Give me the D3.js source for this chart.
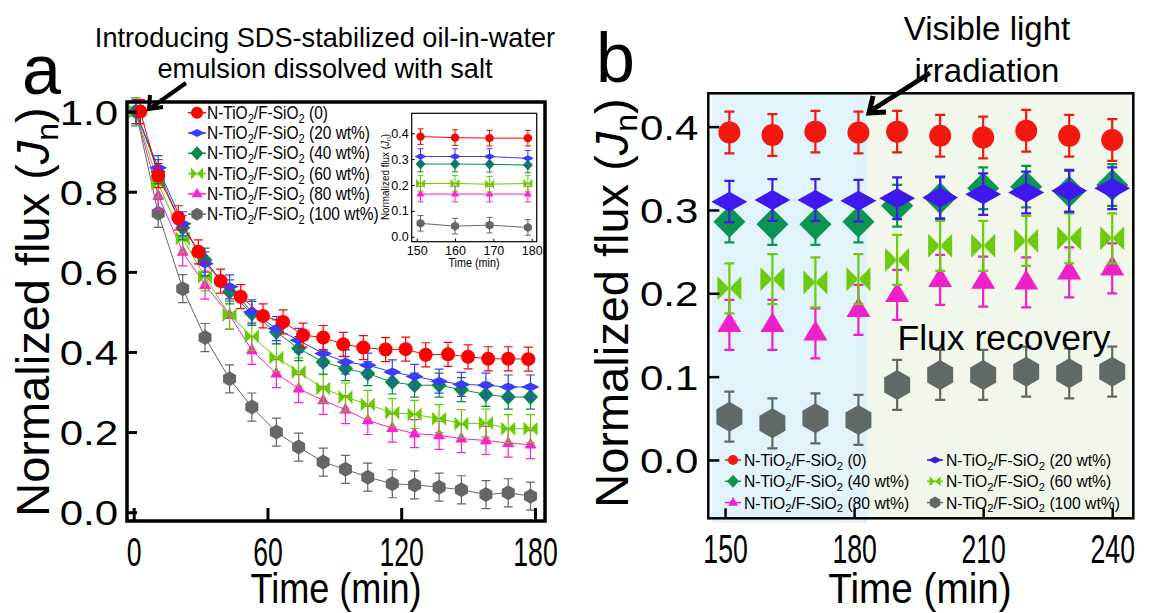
<!DOCTYPE html>
<html><head><meta charset="utf-8">
<script src="https://cdn.jsdelivr.net/npm/d3@7"></script>
<style>
body{margin:0;background:#fff}
svg{display:block}
text{font-family:"Liberation Sans",Arial,Helvetica,sans-serif;fill:#000}
</style>
</head><body>
<svg id="chart" width="1151" height="613"></svg>
<script>
// ---------------- data ----------------
const seriesSuffix = ["(0)", "(20 wt%)", "(40 wt%)", "(60 wt%)", "(80 wt%)", "(100 wt%)"];
const markerTypes = ["circle", "flatDiamond", "diamond", "bowtie", "triangle", "hexagon"];
const colorsA = ["#ff0000", "#3b3bff", "#078a48", "#66cc00", "#ff1ed2", "#666666"];
const colorsB = ["#f2170f", "#3f18f0", "#0b9452", "#6ccb0c", "#ef1fc9", "#5f6a66"];

// panel a: flux decline during emulsion filtration (min)
const timeA0 = [3, 11, 20, 29, 39, 48, 58, 67, 76, 85, 94, 103, 113, 122, 131, 141, 150, 159, 168, 177];
const timeA = [1, 11, 22, 32, 43, 53, 64, 74, 85, 95, 105, 116, 126, 137, 147, 158, 168, 178];
const fluxA0 = [1.0, 0.84, 0.735, 0.65, 0.577, 0.538, 0.49, 0.475, 0.442, 0.436, 0.419, 0.411, 0.406, 0.407, 0.393, 0.394, 0.388, 0.383, 0.383, 0.382];
const fluxA20 = [1.0, 0.86, 0.72, 0.62, 0.5625, 0.5, 0.4585, 0.429, 0.396, 0.375, 0.367, 0.35, 0.339, 0.327, 0.319, 0.317, 0.3125, 0.3125];
const fluxA40 = [1.0, 0.85, 0.71, 0.629, 0.55, 0.496, 0.45, 0.4085, 0.375, 0.3585, 0.346, 0.325, 0.317, 0.317, 0.306, 0.294, 0.2875, 0.2875];
const fluxA60 = [1.0, 0.82, 0.683, 0.5875, 0.492, 0.439, 0.386, 0.35, 0.3085, 0.2875, 0.269, 0.2485, 0.244, 0.2335, 0.221, 0.2225, 0.2085, 0.2085];
const fluxA80 = [1.0, 0.79, 0.65, 0.567, 0.492, 0.404, 0.346, 0.3085, 0.279, 0.256, 0.229, 0.21, 0.196, 0.192, 0.1835, 0.179, 0.1725, 0.1685];
const fluxA100 = [1.0, 0.746, 0.558, 0.436, 0.333, 0.2625, 0.2, 0.1625, 0.125, 0.107, 0.0875, 0.071, 0.068, 0.0625, 0.056, 0.044, 0.0485, 0.04];
const errA = [0.03, 0.03, 0.03, 0.035, 0.035, 0.035];

// inset of panel a: last 30 min
const timeI = [151, 160, 169, 179];
const fluxI0 = [0.387, 0.383, 0.381, 0.381];
const fluxI20 = [0.31, 0.31, 0.31, 0.303];
const fluxI40 = [0.281, 0.281, 0.28, 0.277];
const fluxI60 = [0.206, 0.206, 0.203, 0.206];
const fluxI80 = [0.165, 0.165, 0.165, 0.165];
const fluxI100 = [0.052, 0.041, 0.045, 0.036];
const errI = [0.03, 0.03, 0.03, 0.03, 0.03, 0.03];

// panel b: flux recovery under visible light
const timeB = [151, 161, 171, 181, 190, 200, 210, 220, 230, 240];
const fluxB0 = [0.393, 0.39, 0.394, 0.393, 0.394, 0.389, 0.387, 0.395, 0.389, 0.384];
const fluxB20 = [0.31, 0.312, 0.312, 0.311, 0.314, 0.315, 0.319, 0.321, 0.323, 0.326];
const fluxB40 = [0.286, 0.283, 0.283, 0.286, 0.305, 0.314, 0.326, 0.328, 0.322, 0.33];
const fluxB60 = [0.206, 0.217, 0.213, 0.217, 0.24, 0.257, 0.257, 0.263, 0.266, 0.266];
const fluxB80 = [0.162, 0.162, 0.152, 0.18, 0.198, 0.216, 0.214, 0.213, 0.225, 0.23];
const fluxB100 = [0.052, 0.044, 0.05, 0.048, 0.09, 0.102, 0.102, 0.106, 0.104, 0.106];
const errB = [0.025, 0.025, 0.025, 0.03, 0.03, 0.03];
const lightOnTime = 183;

const ticksAx = [0, 60, 120, 180];
const ticksAy = [0.0, 0.2, 0.4, 0.6, 0.8, 1.0];
const ticksIx = [150, 160, 170, 180];
const ticksIy = [0.0, 0.1, 0.2, 0.3, 0.4];
const ticksBx = [150, 180, 210, 240];
const ticksBy = [0.0, 0.1, 0.2, 0.3, 0.4];

// ---------------- helpers ----------------
const svg = d3.select("#chart");

function markerPath(type, s) {
  const p = d3.path();
  if (type === "circle") {
    p.arc(0, 0, s.r, 0, 2 * Math.PI);
  } else if (type === "flatDiamond" || type === "diamond") {
    p.moveTo(-s.w, 0); p.lineTo(0, -s.h); p.lineTo(s.w, 0); p.lineTo(0, s.h); p.closePath();
  } else if (type === "bowtie") {
    p.moveTo(-s.w, -s.h); p.lineTo(-s.w * 0.12, -s.h * 0.12); p.lineTo(-s.w * 0.12, s.h * 0.12); p.lineTo(-s.w, s.h); p.closePath();
    p.moveTo(s.w, -s.h); p.lineTo(s.w * 0.12, -s.h * 0.12); p.lineTo(s.w * 0.12, s.h * 0.12); p.lineTo(s.w, s.h); p.closePath();
  } else if (type === "triangle") {
    p.moveTo(0, -s.h); p.lineTo(s.w, s.h * 0.55); p.lineTo(-s.w, s.h * 0.55); p.closePath();
  } else if (type === "hexagon") {
    const c = Math.cos(Math.PI / 6) * s.r;
    p.moveTo(0, -s.r); p.lineTo(c, -s.r / 2); p.lineTo(c, s.r / 2);
    p.lineTo(0, s.r); p.lineTo(-c, s.r / 2); p.lineTo(-c, -s.r / 2); p.closePath();
  }
  return p.toString();
}

// per-series marker geometry (half sizes) for each plot
const sizesA = [{r: 7}, {w: 9, h: 4.5}, {w: 7.5, h: 8}, {w: 7, h: 7}, {w: 6, h: 7}, {r: 7.5}];
const sizesI = [{r: 4.2}, {w: 6, h: 3.2}, {w: 5, h: 5.5}, {w: 4.5, h: 4.5}, {w: 4, h: 4.5}, {r: 4.6}];
const sizesB = [{r: 11}, {w: 18, h: 10}, {w: 16, h: 16}, {w: 12, h: 12}, {w: 12, h: 13}, {r: 15}];
const sizesLegA = [{r: 6}, {w: 8, h: 4}, {w: 6.5, h: 7}, {w: 6, h: 6}, {w: 5.5, h: 6}, {r: 6.5}];
const sizesLegB = [{r: 5}, {w: 7, h: 3.5}, {w: 6, h: 6.5}, {w: 5.5, h: 5}, {w: 5, h: 5.5}, {r: 6}];

function formulaText(g, x, y, suffix, size, sx) {
  const t = g.append("text")
    .attr("transform", `translate(${x},${y}) scale(${sx},1)`)
    .attr("font-size", size);
  t.append("tspan").text("N-TiO");
  t.append("tspan").attr("font-size", size * 0.72).attr("dy", size * 0.22).text("2");
  t.append("tspan").attr("dy", -size * 0.22).text("/F-SiO");
  t.append("tspan").attr("font-size", size * 0.72).attr("dy", size * 0.22).text("2");
  t.append("tspan").attr("dy", -size * 0.22).text(" " + suffix);
  return t;
}

function fluxLabel(g, x, y, size, sx) {
  const t = g.append("text")
    .attr("transform", `translate(${x},${y}) rotate(-90) scale(${sx},1)`)
    .attr("text-anchor", "middle")
    .attr("font-size", size);
  t.append("tspan").text("Normalized flux (");
  t.append("tspan").attr("font-style", "italic").text("J");
  t.append("tspan").attr("font-size", size * 0.68).attr("dy", size * 0.2).text("n");
  t.append("tspan").attr("dy", -size * 0.2).text(")");
  return t;
}

function plainText(g, x, y, str, size, anchor, sx) {
  return g.append("text")
    .attr("transform", `translate(${x},${y}) scale(${sx || 1},1)`)
    .attr("text-anchor", anchor || "start")
    .attr("font-size", size)
    .text(str);
}

function drawSeries(g, x, y, times, values, err, color, type, size, opts) {
  const cap = opts.cap;
  if (opts.line) {
    g.append("path")
      .attr("d", d3.line().x(d => x(d[0])).y(d => y(d[1]))(times.map((t, i) => [t, values[i]])))
      .attr("fill", "none").attr("stroke", color).attr("stroke-width", opts.lineWidth);
  }
  const pts = g.selectAll(null).data(times.map((t, i) => ({t, v: values[i]}))).enter().append("g")
    .attr("transform", d => `translate(${x(d.t)},${y(d.v)})`);
  pts.each(function (d) {
    const p = d3.select(this);
    const top = y(d.v + err) - y(d.v), bot = y(d.v - err) - y(d.v);
    p.append("path")
      .attr("d", `M0,${top}V${bot}M${-cap},${top}H${cap}M${-cap},${bot}H${cap}`)
      .attr("stroke", color).attr("stroke-width", opts.errWidth).attr("fill", "none");
  });
  pts.append("path").attr("d", markerPath(type, size)).attr("fill", color);
}

function styleAxis(a, width) {
  a.select(".domain").remove();
  a.selectAll(".tick line").attr("stroke", "#000").attr("stroke-width", width);
  a.selectAll(".tick text").attr("font-family", null).attr("fill", "#000");
}

// ---------------- panel a ----------------
const gA = svg.append("g");
const xA = d3.scaleLinear().domain([-3, 184.5]).range([127, 545]);
const yA = d3.scaleLinear().domain([-0.022, 1.024]).range([521, 102]);

const seriesA = [fluxA0, fluxA20, fluxA40, fluxA60, fluxA80, fluxA100];
for (let i = 5; i >= 0; i--) {
  drawSeries(gA, xA, yA, i === 0 ? timeA0 : timeA, seriesA[i], errA[i], colorsA[i], markerTypes[i], sizesA[i],
    {line: true, lineWidth: 1, errWidth: 1.2, cap: 4.5});
}

// axes of panel a (inward ticks, boxed frame)
const axAleft = d3.axisLeft(yA).tickValues(ticksAy).tickSize(-10).tickFormat(d3.format(".1f")).tickPadding(0);
const axAbottom = d3.axisBottom(xA).tickValues(ticksAx).tickSize(-13).tickFormat(d3.format("d")).tickPadding(16);
const gAy = gA.append("g").attr("transform", `translate(${xA.range()[0]},0)`).call(axAleft);
const gAx = gA.append("g").attr("transform", `translate(0,${yA.range()[0]})`).call(axAbottom);
styleAxis(gAy, 3); styleAxis(gAx, 3);
gAy.selectAll(".tick text").attr("font-size", 35).attr("x", null).attr("dy", "0.36em")
  .attr("transform", "translate(-9,0) scale(1.2,1)");
gAx.selectAll(".tick text").attr("font-size", 41).attr("transform", "scale(0.65,1)");
gA.append("rect")
  .attr("x", xA.range()[0]).attr("y", yA.range()[1])
  .attr("width", xA.range()[1] - xA.range()[0]).attr("height", yA.range()[0] - yA.range()[1])
  .attr("fill", "none").attr("stroke", "#000").attr("stroke-width", 3.5);

fluxLabel(gA, 49, 312, 47, 1);
plainText(gA, 336, 603, "Time (min)", 43, "middle", 0.84);
plainText(gA, 22, 94, "a", 70, "start", 1);

// annotation of the feed change
plainText(gA, 325, 47, "Introducing SDS-stabilized oil-in-water", 28, "middle", 0.97);
plainText(gA, 325, 78, "emulsion dissolved with salt", 28, "middle", 0.97);
gA.append("path").attr("d", "M186,83 L152,107").attr("stroke", "#000").attr("stroke-width", 4).attr("fill", "none");
gA.append("path").attr("d", "M150,95 L149,109 L163,107").attr("stroke", "#000").attr("stroke-width", 4)
  .attr("fill", "none").attr("stroke-linejoin", "miter");

// legend of panel a
const legA = gA.append("g");
seriesSuffix.forEach((s, i) => {
  const yy = 112.7 + i * 20.3;
  legA.append("line").attr("x1", 188).attr("x2", 206).attr("y1", yy).attr("y2", yy)
    .attr("stroke", colorsA[i]).attr("stroke-width", 1.5);
  legA.append("path").attr("transform", `translate(197,${yy})`)
    .attr("d", markerPath(markerTypes[i], sizesLegA[i])).attr("fill", colorsA[i]);
  formulaText(legA, 207, yy + 6, s, 18, 0.86);
});

// ---------------- inset ----------------
const gI = svg.append("g");
const xI = d3.scaleLinear().domain([148.7, 181.3]).range([411.7, 536.7]);
const yI = d3.scaleLinear().domain([-0.019, 0.477]).range([241.7, 113.3]);
gI.append("rect").attr("x", 411.7).attr("y", 113.3).attr("width", 125).attr("height", 128.4).attr("fill", "#fff");
const seriesI = [fluxI0, fluxI20, fluxI40, fluxI60, fluxI80, fluxI100];
for (let i = 5; i >= 0; i--) {
  drawSeries(gI, xI, yI, timeI, seriesI[i], errI[i], colorsA[i], markerTypes[i], sizesI[i],
    {line: true, lineWidth: 1, errWidth: 1, cap: 3});
}
const axIleft = d3.axisLeft(yI).tickValues(ticksIy).tickSize(-3).tickFormat(d3.format(".1f")).tickPadding(3);
const axIbottom = d3.axisBottom(xI).tickValues(ticksIx).tickSize(-3).tickFormat(d3.format("d")).tickPadding(4);
const gIy = gI.append("g").attr("transform", `translate(${xI.range()[0]},0)`).call(axIleft);
const gIx = gI.append("g").attr("transform", `translate(0,${yI.range()[0]})`).call(axIbottom);
styleAxis(gIy, 1); styleAxis(gIx, 1);
gIy.selectAll(".tick text").attr("font-size", 12.5);
gIx.selectAll(".tick text").attr("font-size", 12.5);
gI.append("rect").attr("x", 411.7).attr("y", 113.3).attr("width", 125).attr("height", 128.4)
  .attr("fill", "none").attr("stroke", "#000").attr("stroke-width", 1.2);
fluxLabel(gI, 389, 177, 11, 0.9);
plainText(gI, 474, 267, "Time (min)", 12, "middle", 0.9);

// ---------------- panel b ----------------
const gB = svg.append("g");
const xB = d3.scaleLinear().domain([146.1, 244.9]).range([708.3, 1133.3]);
const yB = d3.scaleLinear().domain([-0.07, 0.44]).range([518.3, 93.3]);

// dark period / light period backgrounds
gB.append("rect").attr("x", xB(lightOnTime) - 5).attr("y", 93.3)
  .attr("width", xB.range()[1] - xB(lightOnTime) + 5).attr("height", 425).attr("fill", "#f2f7ec");
gB.append("rect").attr("x", 711.5).attr("y", 93.3)
  .attr("width", xB(lightOnTime) - 711.5).attr("height", 429.5).attr("fill", "#d9f0fa").attr("fill-opacity", 0.8);

const seriesB = [fluxB0, fluxB20, fluxB40, fluxB60, fluxB80, fluxB100];
for (let i = 5; i >= 0; i--) {
  drawSeries(gB, xB, yB, timeB, seriesB[i], errB[i], colorsB[i], markerTypes[i], sizesB[i],
    {line: false, errWidth: 2.2, cap: 5});
}

const axBleft = d3.axisLeft(yB).tickValues(ticksBy).tickSize(-11).tickFormat(d3.format(".1f")).tickPadding(0);
const axBbottom = d3.axisBottom(xB).tickValues(ticksBx).tickSize(-10).tickFormat(d3.format("d")).tickPadding(16);
const gBy = gB.append("g").attr("transform", `translate(${xB.range()[0]},0)`).call(axBleft);
const gBx = gB.append("g").attr("transform", `translate(0,${yB.range()[0]})`).call(axBbottom);
styleAxis(gBy, 2.5); styleAxis(gBx, 2.5);
gBy.selectAll(".tick text").attr("font-size", 35).attr("x", null).attr("dy", "0.36em")
  .attr("transform", "translate(-10,0) scale(1.2,1)");
gBx.selectAll(".tick text").attr("font-size", 41).attr("transform", "scale(0.65,1)");
gB.append("rect")
  .attr("x", xB.range()[0]).attr("y", yB.range()[1])
  .attr("width", xB.range()[1] - xB.range()[0]).attr("height", yB.range()[0] - yB.range()[1])
  .attr("fill", "none").attr("stroke", "#000").attr("stroke-width", 2.5);

fluxLabel(gB, 628, 303, 47, 1);
plainText(gB, 920, 603, "Time (min)", 43, "middle", 0.9);
plainText(gB, 596, 82, "b", 70, "start", 1);
plainText(gB, 987, 40, "Visible light", 33, "middle", 1);
plainText(gB, 987, 82, "irradiation", 33, "middle", 1);
plainText(gB, 1004, 350, "Flux recovery", 35.5, "middle", 1);
gB.append("path").attr("d", "M930,73 L872,110").attr("stroke", "#000").attr("stroke-width", 5).attr("fill", "none");
gB.append("path").attr("d", "M873,96 L869,113 L886,112").attr("stroke", "#000").attr("stroke-width", 5).attr("fill", "none");

// legend of panel b (two columns, three rows)
const legB = gB.append("g");
seriesSuffix.forEach((s, i) => {
  const col = i % 2, row = Math.floor(i / 2);
  const lx = col === 0 ? 733 : 935, ly = 460 + row * 21.3;
  legB.append("line").attr("x1", lx - 8).attr("x2", lx + 8).attr("y1", ly).attr("y2", ly)
    .attr("stroke", colorsB[i]).attr("stroke-width", 1.5);
  legB.append("path").attr("transform", `translate(${lx},${ly})`)
    .attr("d", markerPath(markerTypes[i], sizesLegB[i])).attr("fill", colorsB[i]);
  formulaText(legB, lx + 11, ly + 6, s, 16, 0.98);
});
</script>
</body></html>
